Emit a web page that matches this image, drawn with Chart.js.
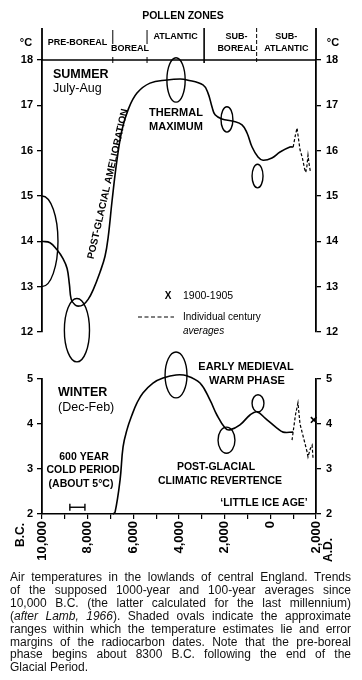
<!DOCTYPE html>
<html><head><meta charset="utf-8">
<script src="https://cdn.jsdelivr.net/npm/chart.js@4/dist/chart.umd.min.js"></script>
<style>
html,body{margin:0;padding:0;background:#fff;}
body{width:362px;height:680px;position:relative;overflow:hidden;font-family:"Liberation Sans",Arial,sans-serif;}
canvas{position:absolute;left:0;}
#summer{top:0;}
#winter{top:330px;}
#caption{position:absolute;left:10px;top:571px;width:341px;font-size:12px;line-height:12.9px;color:#111;}
#caption div{text-align:justify;text-align-last:justify;white-space:nowrap;}
#caption div.last{text-align-last:left;}
</style></head>
<body>
<canvas id="summer" width="362" height="380"></canvas>
<canvas id="winter" width="362" height="240"></canvas>
<div id="caption">
<div>Air temperatures in the lowlands of central England. Trends</div>
<div>of the supposed 1000-year and 100-year averages since</div>
<div>10,000 B.C. (the latter calculated for the last millennium)</div>
<div>(<i>after Lamb, 1966</i>). Shaded ovals indicate the approximate</div>
<div>ranges within which the temperature estimates lie and error</div>
<div>margins of the radiocarbon dates. Note that the pre-boreal</div>
<div>phase begins about 8300 B.C. following the end of the</div>
<div class="last">Glacial Period.</div>
</div>
<script>
// ---------- DATA ----------
const summerYears = [-10000,-9650,-9350,-9080,-8900,-8800,-8720,-8560,-8420,-8200,-7980,-7760,-7460,-7240,-7100,-6930,-6720,-6500,-6230,-5840,-5270,-4520,-3950,-3650,-2950,-2730,-2550,-2420,-2120,-1630,-1240,-1020,-800,-540,-320,70,425,860,1000];
const summerTemps = [14.0,13.97,13.82,13.62,13.4,13.05,12.72,12.6,12.57,12.6,12.72,12.93,13.32,13.67,14.1,14.9,15.78,16.45,16.9,17.27,17.49,17.56,17.58,17.56,17.45,17.27,16.96,16.79,16.7,16.65,16.57,16.39,16.08,15.86,15.79,15.84,15.97,16.08,16.08];
const summerCenturyYears = [1000,1100,1170,1250,1300,1400,1500,1550,1600,1650,1700,1750];
const summerCenturyTemps = [16.08,16.35,16.5,16.2,16.02,15.85,15.6,15.52,15.65,15.9,15.7,15.55];

const winterYears = [-6900,-6800,-6580,-6450,-6280,-6060,-5840,-5580,-5140,-4700,-4130,-3650,-3080,-2640,-2340,-1980,-1770,-1330,-890,-580,-230,290,560,1000];
const winterTemps = [2.0,2.04,2.76,3.49,3.87,4.2,4.47,4.69,4.91,5.02,5.09,5.07,4.91,4.53,4.2,3.91,3.87,3.98,4.2,4.27,4.13,3.91,3.82,3.82];
const winterCenturyYears = [950,1100,1210,1300,1390,1500,1600,1650,1750,1830,1870];
const winterCenturyTemps = [3.64,4.2,4.47,4.0,3.82,3.6,3.4,3.27,3.45,3.53,3.24];
const recentYears = [1900];
const recentWinterTemps = [4.09];
const coldPeriodYears = [-8780,-8120];
const coldPeriodTemps = [2.15,2.15];

const summerOvalYears = [-10000,-8470,-4130,-1900,-560];
const summerOvalTemps = [14.0,12.04,17.56,16.69,15.44];
const summerOvalYearSpread = [700,550,400,260,240];
const summerOvalTempSpread = [1.0,0.7,0.49,0.28,0.26];
const winterOvalYears = [-4130,-1920,-540];
const winterOvalTemps = [5.09,3.64,4.46];
const winterOvalYearSpread = [480,370,260];
const winterOvalTempSpread = [0.51,0.29,0.19];

const zoneBounds = [-10000,-6900,-5400,-2900,-600,2000];
const zoneNames = [['PRE-BOREAL'],['BOREAL'],['ATLANTIC'],['SUB-','BOREAL'],['SUB-','ATLANTIC']];
const summerRange = [12,18];
const winterRange = [2,5];
const xTickLabels = ['10,000','8,000','6,000','4,000','2,000','0','2,000'];

// ---------- HELPERS ----------
const FAM = '"Liberation Sans", Arial, sans-serif';
Chart.defaults.font.family = FAM;
Chart.defaults.color = '#000';
const pts = (xs, ys) => xs.map((x,i)=>({x:x,y:ys[i]}));
function txt(ctx,s,x,y,font,align){ctx.font=font;ctx.textAlign=align||'center';ctx.textBaseline='middle';ctx.fillStyle='#000';ctx.fillText(s,x,y);}
function drawOvals(chart, yrs, tps, rxs, rys){
  const {ctx, chartArea:a, scales:{x, y}} = chart;
  ctx.save();
  ctx.beginPath(); ctx.rect(a.left, 0, a.right-a.left, chart.height); ctx.clip();
  ctx.strokeStyle='#000'; ctx.lineWidth=1.4;
  for(let i=0;i<yrs.length;i++){
    const cx=x.getPixelForValue(yrs[i]), cy=y.getPixelForValue(tps[i]);
    const rx=Math.abs(x.getPixelForValue(yrs[i]+rxs[i])-cx);
    const ry=Math.abs(y.getPixelForValue(tps[i]+rys[i])-cy);
    ctx.beginPath(); ctx.ellipse(cx,cy,rx,ry,0,0,Math.PI*2); ctx.stroke();
  }
  ctx.restore();
}
const yAxis = (range, pos, w, pad) => ({
  position:pos, min:range[0], max:range[1],
  ticks:{stepSize:1, color:'#000', padding:pad, font:{size:11, weight:'bold'}},
  grid:{drawOnChartArea:false, drawTicks:true, tickLength:5, color:'#000', lineWidth:1.3},
  border:{display:true, color:'#000', width:1.8},
  afterFit(s){ s.width = w; }
});

// ---------- SUMMER ----------
const summerDecor = {
  id:'summerDecor',
  afterDraw(chart){
    const {ctx, chartArea:a, scales:{x}} = chart;
    ctx.save();
    ctx.strokeStyle='#000';
    // top border at 18
    ctx.lineWidth=1.6; ctx.beginPath(); ctx.moveTo(a.left,a.top); ctx.lineTo(a.right,a.top); ctx.stroke();
    // zone boundaries
    zoneBounds.forEach((b,i)=>{
      const px=x.getPixelForValue(b);
      const edge = (i===0||i===zoneBounds.length-1);
      ctx.setLineDash(i===4?[4,2]:[]);
      if(i===1||i===2){
        ctx.lineWidth=1;
        ctx.beginPath(); ctx.moveTo(px,30); ctx.lineTo(px,44); ctx.stroke();
        ctx.beginPath(); ctx.moveTo(px,a.top-3); ctx.lineTo(px,a.top+3); ctx.stroke();
      } else {
        ctx.lineWidth = edge?1.8:(i===3?1.6:1);
        ctx.beginPath(); ctx.moveTo(px, 28); ctx.lineTo(px, a.top+(edge?0:3)); ctx.stroke();
      }
    });
    ctx.setLineDash([]);
    txt(ctx,'POLLEN ZONES',183,16,'bold 10.5px '+FAM);
    txt(ctx,'°C',26,43,'bold 11px '+FAM);
    txt(ctx,'°C',333,43,'bold 11px '+FAM);
    const zf='bold 9px '+FAM;
    const nudge=[0,0,0,6,0];
    const ys=[[43],[49],[37],[37,49],[37,49]];
    zoneNames.forEach((lines,i)=>{
      const cx=(x.getPixelForValue(zoneBounds[i])+x.getPixelForValue(zoneBounds[i+1]))/2+nudge[i];
      lines.forEach((l,j)=>txt(ctx,l,cx,ys[i][j],zf));
    });
    // ovals
    drawOvals(chart, summerOvalYears, summerOvalTemps, summerOvalYearSpread, summerOvalTempSpread);
    // annotations
    txt(ctx,'SUMMER',53,75,'bold 12.5px '+FAM,'left');
    txt(ctx,'July-Aug',53,89,'12.5px '+FAM,'left');
    txt(ctx,'THERMAL',176,113,'bold 11px '+FAM);
    txt(ctx,'MAXIMUM',176,127,'bold 11px '+FAM);
    ctx.save(); ctx.translate(108,184); ctx.rotate(-77*Math.PI/180);
    txt(ctx,'POST-GLACIAL AMELIORATION',0,0,'bold 10px '+FAM); ctx.restore();
    txt(ctx,'X',168,296,'bold 10px '+FAM);
    txt(ctx,'1900-1905',183,296,'10.5px '+FAM,'left');
    ctx.lineWidth=1.2; ctx.setLineDash([4,2.5]);
    ctx.beginPath(); ctx.moveTo(138,317); ctx.lineTo(174,317); ctx.stroke(); ctx.setLineDash([]);
    txt(ctx,'Individual century',183,317,'10px '+FAM,'left');
    txt(ctx,'averages',183,331,'italic 10px '+FAM,'left');
    ctx.restore();
  }
};
new Chart(document.getElementById('summer'),{
  type:'line',
  data:{datasets:[
    {data:pts(summerYears,summerTemps), borderColor:'#000', borderWidth:1.6, pointRadius:0, tension:0.4, clip:false},
    {data:pts(summerCenturyYears,summerCenturyTemps), borderColor:'#000', borderWidth:1.2, borderDash:[3,2], pointRadius:0, tension:0, clip:false}
  ]},
  options:{
    responsive:false, animation:false, events:[],
    layout:{padding:{top:60,bottom:48,left:0,right:0}},
    plugins:{legend:{display:false}, tooltip:{enabled:false}},
    scales:{
      x:{type:'linear', min:-10000, max:2000, display:false},
      y:yAxis(summerRange,'left',42,4),
      y2:yAxis(summerRange,'right',46,5)
    }
  },
  plugins:[summerDecor]
});

// ---------- WINTER ----------
const winterDecor = {
  id:'winterDecor',
  afterDraw(chart){
    const {ctx} = chart;
    ctx.save();
    drawOvals(chart, winterOvalYears, winterOvalTemps, winterOvalYearSpread, winterOvalTempSpread);
    txt(ctx,'EARLY MEDIEVAL',246,37,'bold 11px '+FAM);
    txt(ctx,'WARM PHASE',247,51,'bold 11px '+FAM);
    txt(ctx,'WINTER',58,63,'bold 12.5px '+FAM,'left');
    txt(ctx,'(Dec-Feb)',58,78,'12.5px '+FAM,'left');
    txt(ctx,'600 YEAR',84,127,'bold 10.5px '+FAM);
    txt(ctx,'COLD PERIOD',83,140,'bold 10.5px '+FAM);
    txt(ctx,'(ABOUT 5°C)',81,154,'bold 10.5px '+FAM);
    txt(ctx,'POST-GLACIAL',216,137,'bold 10.5px '+FAM);
    txt(ctx,'CLIMATIC REVERTENCE',220,151,'bold 10.5px '+FAM);
    txt(ctx,'\u2018LITTLE ICE AGE\u2019',264,173,'bold 10.5px '+FAM);
    ctx.save(); ctx.translate(21,205); ctx.rotate(-Math.PI/2);
    txt(ctx,'B.C.',0,0,'bold 12px '+FAM); ctx.restore();
    ctx.save(); ctx.translate(329,220); ctx.rotate(-Math.PI/2);
    txt(ctx,'A.D.',0,0,'bold 12px '+FAM); ctx.restore();
    ctx.restore();
  }
};
new Chart(document.getElementById('winter'),{
  type:'line',
  data:{datasets:[
    {data:pts(winterYears,winterTemps), borderColor:'#000', borderWidth:1.6, pointRadius:0, tension:0.4, clip:false},
    {data:pts(winterCenturyYears,winterCenturyTemps), borderColor:'#000', borderWidth:1.2, borderDash:[3,2], pointRadius:0, tension:0, clip:false},
    {type:'scatter', data:pts(recentYears,recentWinterTemps), pointStyle:'crossRot', pointRadius:4, borderColor:'#000', borderWidth:1.6, clip:false},
    {data:pts(coldPeriodYears,coldPeriodTemps), borderColor:'#000', borderWidth:1.4, pointStyle:'line', pointRotation:90, pointRadius:3.5, pointBorderWidth:1.4, pointBorderColor:'#000', clip:false}
  ]},
  options:{
    responsive:false, animation:false, events:[],
    layout:{padding:{top:49,bottom:0,left:0,right:0}},
    plugins:{legend:{display:false}, tooltip:{enabled:false}},
    scales:{
      x:{type:'linear', position:'bottom', min:-10000, max:2000,
        ticks:{stepSize:1000, autoSkip:false, minRotation:90, maxRotation:90, padding:2, color:'#000',
          font:{size:13, weight:'bold'},
          callback:(v)=> (v % 2000 === 0) ? xTickLabels[(v+10000)/2000] : ''},
        grid:{drawOnChartArea:false, drawTicks:true, tickLength:5, color:'#000', lineWidth:1.2},
        border:{display:true, color:'#000', width:1.5, dash:[7,3]},
        afterFit(s){ s.height = 56; }
      },
      y:yAxis(winterRange,'left',42,4),
      y2:yAxis(winterRange,'right',46,5)
    }
  },
  plugins:[winterDecor]
});
</script>
</body></html>
